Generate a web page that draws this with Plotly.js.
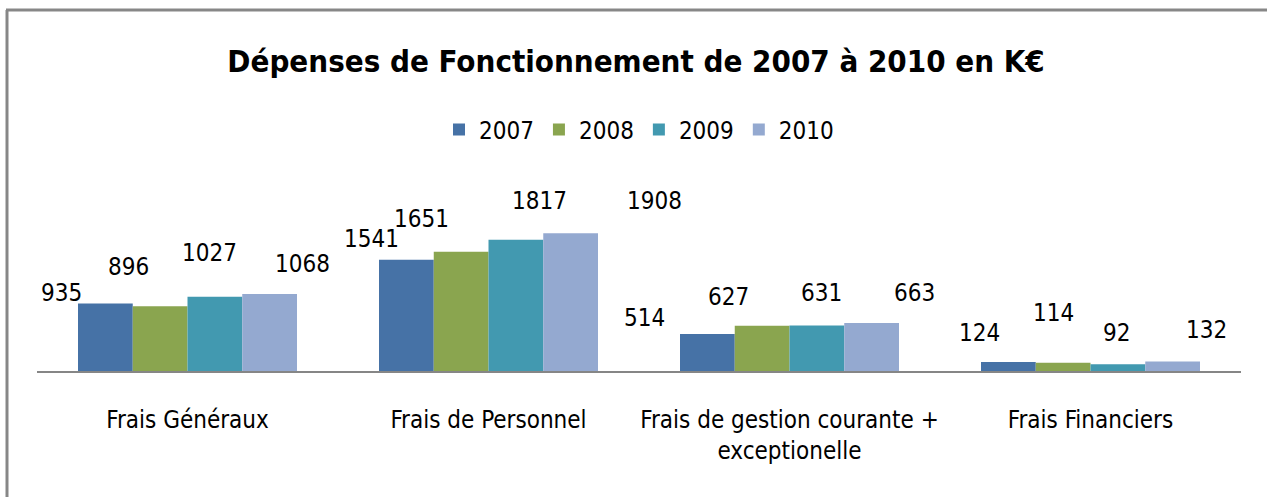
<!DOCTYPE html>
<html>
<head>
<meta charset="utf-8">
<script src="https://cdn.plot.ly/plotly-3.0.1.min.js"></script>
<style>
  html, body { margin: 0; padding: 0; background: #ffffff; }
  #chart { width: 1267px; height: 497px; }
</style>
</head>
<body>
<div id="chart"></div>
<script>
// ---- data ----
const categories = ['Frais Généraux', 'Frais de Personnel', 'Frais de gestion courante +<br>exceptionelle', 'Frais Financiers'];
const years = ['2007', '2008', '2009', '2010'];
const v2007 = [935, 1541, 514, 124];
const v2008 = [896, 1651, 627, 114];
const v2009 = [1027, 1817, 631, 92];
const v2010 = [1068, 1908, 663, 132];

// ---- styling / label placement (pixels, as placed in the original) ----
const colors = ['#4672A6', '#8AA54F', '#4299B0', '#94A9D0'];
const labelDx = [[-44, -35, -63, -29], [-32, -40, -34, -10], [-5, 24, 5, -1], [33, 84, 43, 34]];
const labelUp = [[10, 21, 16, 29], [39, 33, 29, 50], [44, 39, 32, 31], [30, 32, 30, 31]];

const series = [v2007, v2008, v2009, v2010];
const FONT = '"Liberation Sans Narrow", "DejaVu Sans Condensed", "Liberation Sans", sans-serif';
const bargap = 0.2724;
const nSeries = series.length;
const barW = (1 - bargap) / nSeries;

const traces = series.map((vals, i) => ({
  type: 'bar',
  name: years[i],
  x: categories,
  y: vals,
  marker: { color: colors[i], line: { width: 0 } },
  hoverinfo: 'x+y+name'
}));

const annotations = [];
series.forEach((vals, i) => {
  vals.forEach((v, j) => {
    annotations.push({
      x: j + (i - (nSeries - 1) / 2) * barW,
      y: v,
      xref: 'x', yref: 'y',
      text: String(v),
      showarrow: false,
      xanchor: 'center', yanchor: 'middle',
      xshift: labelDx[i][j],
      yshift: labelUp[i][j],
      font: { family: FONT, size: 24, color: '#000000' }
    });
  });
});

const plotL = 37, plotR = 1241, plotT = 160, plotB = 371;
const pw = plotR - plotL, ph = plotB - plotT;
const px2x = p => (p - plotL) / pw;
const px2y = p => (plotB - p) / ph;

const layout = {
  width: 1267, height: 497,
  margin: { l: plotL, r: 1267 - plotR, t: plotT, b: 497 - plotB, pad: 0 },
  paper_bgcolor: '#ffffff', plot_bgcolor: '#ffffff',
  barmode: 'group', bargap: bargap, bargroupgap: 0,
  title: {
    text: '<b>Dépenses de Fonctionnement de 2007 à 2010 en K€</b>',
    font: { family: FONT, size: 31, color: '#000000' },
    xref: 'container', x: 0.502, xanchor: 'center',
    yref: 'container', y: 1 - 61 / 497, yanchor: 'middle'
  },
  showlegend: true,
  legend: {
    orientation: 'h', x: 0.5, xanchor: 'center', y: px2y(130), yanchor: 'middle',
    font: { family: FONT, size: 24, color: '#000000' },
    itemwidth: 30, traceorder: 'normal', bgcolor: 'rgba(0,0,0,0)'
  },
  xaxis: {
    type: 'category',
    range: [-0.5, 3.5],
    showline: true, linecolor: '#868686', linewidth: 2,
    ticks: '', showgrid: false, zeroline: false,
    tickfont: { family: FONT, size: 24, color: '#000000' },
    ticklabelstandoff: 26,
    fixedrange: true
  },
  yaxis: {
    range: [0, 2922],
    visible: false, showgrid: false, zeroline: false,
    fixedrange: true
  },
  annotations: annotations,
  shapes: [
    { type: 'line', xref: 'paper', yref: 'paper', x0: px2x(6), x1: px2x(1300), y0: px2y(10), y1: px2y(10),
      line: { color: '#878787', width: 3 } },
    { type: 'line', xref: 'paper', yref: 'paper', x0: px2x(7), x1: px2x(7), y0: px2y(10), y1: px2y(520),
      line: { color: '#878787', width: 3 } }
  ]
};

Plotly.newPlot('chart', traces, layout, { displayModeBar: false, staticPlot: true });
</script>
</body>
</html>
